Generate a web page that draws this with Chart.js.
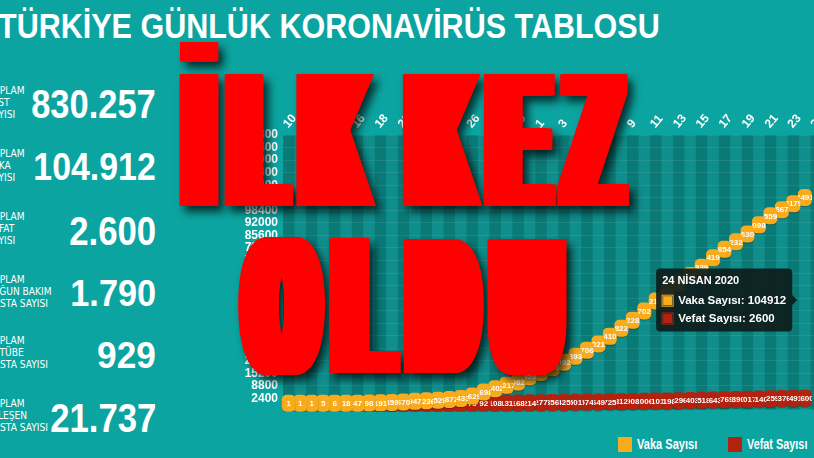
<!DOCTYPE html>
<html>
<head>
<meta charset="utf-8">
<script src="https://cdn.jsdelivr.net/npm/chart.js@4.4.1/dist/chart.umd.min.js"></script>
<style>
html, body { margin: 0; padding: 0; width: 814px; height: 458px; overflow: hidden; background: #0ca4a0; }
#stage { position: relative; width: 814px; height: 458px; overflow: hidden; color: #fff;
  font-family: "Liberation Sans", sans-serif; }
#chart { position: absolute; left: 230px; top: 92px; }
.fit { position: absolute; left: 0; top: 0; white-space: nowrap; line-height: 1; transform-origin: 0 0; }
.fit i { display: inline-block; width: 0; height: 0; }
.title { font-weight: bold; font-size: 40px; }
.num { font-weight: bold; font-size: 40px; }
.lbl { position: absolute; left: -13px; font-family: "DejaVu Sans Condensed", sans-serif; font-size: 11px;
  line-height: 11.8px; white-space: nowrap; transform: scaleX(0.92); transform-origin: 0 0; }
.big { position: absolute; left: 0; top: 0; width: 814px; height: 458px; pointer-events: none;
  filter: drop-shadow(5px 6px 4px rgba(0,0,0,.7)); }
.red { font-weight: bold; font-size: 100px; color: #ff0000; letter-spacing: 28px; word-spacing: -24px; }
.leg-box { position: absolute; top: 437px; width: 14px; height: 15px; }
.leg-txt { font-weight: bold; font-size: 20px; }
</style>
</head>
<body>
<div id="stage">
  <canvas id="chart" width="606" height="320"></canvas>

  <div class="fit title" id="title">TÜRKİYE GÜNLÜK KORONAVİRÜS TABLOSU<i></i></div>
  <div id="panel"></div>
  <div id="legend"></div>

  <div class="big"><div class="fit red" id="red1">İLK KEZ<i></i></div></div>
  <div class="big"><div class="fit red" id="red2">OLDU<i></i></div></div>
</div>

<script>
// gün etiketleri: 10 Mart - 26 Nisan
var days = ['10','11','12','13','14','15','16','17','18','19','20','21','22','23','24','25','26','27','28','29','30','31',
            '1','2','3','4','5','6','7','8','9','10','11','12','13','14','15','16','17','18','19','20','21','22','23','24','25','26'];

var vaka = [1, 1, 1, 5, 6, 18, 47, 98, 191, 359, 670, 947, 1236, 1529, 1872, 2433, 3629, 5698, 7402, 9217,
            10827, 13531, 15679, 18135, 20921, 23934, 27069, 30217, 34109, 38226, 42282, 47029, 52167, 56956,
            61049, 65111, 69392, 74193, 78546, 82329, 86306, 90980, 95591, 98674, 101790, 104912];

var vefat = [null, null, null, null, null, null, null, 1, 2, 4, 9, 21, 30, 37, 44, 59, 75, 92, 108, 131,
             168, 214, 277, 356, 425, 501, 574, 649, 725, 812, 908, 1006, 1101, 1198, 1296, 1403, 1518,
             1643, 1769, 1890, 2017, 2140, 2259, 2376, 2491, 2600];

var yTicks = [2400, 8800, 15200, 21600, 28000, 34400, 40800, 47200, 53600, 60000, 66400, 72800, 79200,
              85600, 92000, 98400, 104800, 111200, 117600, 124000, 130400, 136800];

var seriesNames = ['Vaka Sayısı', 'Vefat Sayısı'];
var seriesColors = ['#f8ab1c', '#b3220f'];
var tooltipDate = '24 NİSAN 2020';

var panelRows = [
    { label: ['TOPLAM', 'TEST', 'SAYISI'], value: '830.257' },
    { label: ['TOPLAM', 'VAKA', 'SAYISI'], value: '104.912' },
    { label: ['TOPLAM', 'VEFAT', 'SAYISI'], value: '2.600' },
    { label: ['TOPLAM', 'YOĞUN BAKIM', 'HASTA SAYISI'], value: '1.790' },
    { label: ['TOPLAM', 'ENTÜBE', 'HASTA SAYISI'], value: '929' },
    { label: ['TOPLAM', 'İYİLEŞEN', 'HASTA SAYISI'], value: '21.737' }
];

var FONT = "'Liberation Sans', sans-serif";

// sol panel
var panelBoxes = [[32, 90, 118, 85], [35, 153, 180, 148], [70, 217, 245, 211],
                  [72, 280, 306, 274], [98, 342, 368, 335], [51, 403, 432, 398]];
var panel = document.getElementById('panel');
panelRows.forEach(function (row, i) {
    var lbl = document.createElement('div');
    lbl.className = 'lbl';
    lbl.style.top = panelBoxes[i][3] + 'px';
    lbl.innerHTML = row.label.join('<br>');
    panel.appendChild(lbl);
    var num = document.createElement('div');
    num.className = 'fit num';
    num.id = 'num' + i;
    num.innerHTML = row.value + '<i></i>';
    panel.appendChild(num);
});

// lejant
var legendPos = [[618, 637, 697], [728, 747, 807]];
var legend = document.getElementById('legend');
legendPos.forEach(function (pos, i) {
    var b = document.createElement('div');
    b.className = 'leg-box';
    b.style.left = pos[0] + 'px';
    b.style.background = seriesColors[i];
    legend.appendChild(b);
    var t = document.createElement('div');
    t.className = 'fit leg-txt';
    t.id = 'leg' + i;
    t.innerHTML = seriesNames[i] + '<i></i>';
    legend.appendChild(t);
});

var SMEAR = 34;
var smear = [];
for (var k = 1; k <= SMEAR; k++) smear.push(k + 'px 0 0 #ff0000');
document.getElementById('red1').style.textShadow = smear.join(',');
document.getElementById('red2').style.textShadow = smear.join(',');

var mctx = document.createElement('canvas').getContext('2d');

// metni verilen mürekkep kutusuna sığdır
function fit(el, l, r, top, base, d, ls) {
    el.style.transform = 'none';
    var cs = getComputedStyle(el);
    mctx.font = cs.fontWeight + ' ' + cs.fontSize + ' ' + cs.fontFamily;
    var text = el.textContent;
    var first = mctx.measureText(text[0]);
    var last = mctx.measureText(text[text.length - 1]);
    var capH = mctx.measureText('H').actualBoundingBoxAscent;
    var inkL = -first.actualBoundingBoxLeft;
    var inkR = el.offsetWidth - ls - (last.width - last.actualBoundingBoxRight) + d;
    var b = el.querySelector('i').getBoundingClientRect().top - el.getBoundingClientRect().top;
    var sx = (r - l) / (inkR - inkL);
    var sy = (base - top) / capH;
    var tx = l - sx * inkL;
    var ty = base - sy * b;
    el.style.transform = 'translate(' + tx + 'px,' + ty + 'px) scale(' + sx + ',' + sy + ')';
}

function layoutText() {
    fit(document.getElementById('title'), -2, 658, 13, 38, 0, 0);
    panelBoxes.forEach(function (p, i) {
        fit(document.getElementById('num' + i), p[0], 155, p[1], p[2], 0, 0);
    });
    legendPos.forEach(function (p, i) {
        fit(document.getElementById('leg' + i), p[1], p[2], 439, 449, 0, 0);
    });
    fit(document.getElementById('red1'), 179, 630, 72, 206, SMEAR, 28);
    fit(document.getElementById('red2'), 238, 567, 237, 373, SMEAR, 28);
}
layoutText();
if (document.fonts) document.fonts.ready.then(layoutText);

// grafik
var stripes = {
    id: 'stripes',
    beforeDraw: function (chart) {
        var ctx = chart.ctx, a = chart.chartArea, xs = chart.scales.x;
        var w = xs.width / days.length;
        ctx.save();
        for (var i = 0; i < days.length; i++) {
            ctx.fillStyle = i % 2 === 0 ? '#0a7a77' : '#0f8e8b';
            ctx.fillRect(xs.getPixelForValue(i) - w / 2, a.top, w + 0.5, a.bottom - a.top);
        }
        ctx.restore();
    }
};

var pills = {
    id: 'pills',
    afterDatasetsDraw: function (chart) {
        var ctx = chart.ctx;
        [1, 0].forEach(function (di) {
            var meta = chart.getDatasetMeta(di);
            var data = chart.data.datasets[di].data;
            for (var i = meta.data.length - 1; i >= 0; i--) {
                if (data[i] == null) continue;
                var p = meta.data[i];
                var w = 14, h = 17;
                ctx.save();
                ctx.shadowColor = 'rgba(0,0,0,0.25)';
                ctx.shadowOffsetY = 1;
                ctx.beginPath();
                ctx.roundRect(p.x - w / 2, p.y - h / 2, w, h, 5);
                ctx.fillStyle = seriesColors[di];
                ctx.fill();
                ctx.shadowColor = 'transparent';
                ctx.clip();
                ctx.fillStyle = '#fff';
                ctx.font = 'bold 8px ' + FONT;
                ctx.textAlign = 'center';
                ctx.textBaseline = 'middle';
                ctx.fillText(String(data[i]), p.x, p.y + 0.5);
                ctx.restore();
            }
        });
    }
};

var Tip = Chart.Tooltip || Chart.registry.plugins.get('tooltip');
Tip.positioners.fixedRight = function (items) {
    if (!items.length) return false;
    return { x: items[0].element.x - 10, y: this.chart.chartArea.top + 165 };
};

var chart = new Chart(document.getElementById('chart'), {
    type: 'line',
    data: {
        labels: days,
        datasets: [
            { label: seriesNames[0], data: vaka, borderColor: seriesColors[0], backgroundColor: seriesColors[0],
              borderWidth: 5, pointRadius: 0, tension: 0 },
            { label: seriesNames[1], data: vefat, borderColor: seriesColors[1], backgroundColor: seriesColors[1],
              borderWidth: 5, pointRadius: 0, tension: 0 }
        ]
    },
    options: {
        responsive: false,
        animation: false,
        events: [],
        layout: { padding: 0 },
        interaction: { mode: 'index', intersect: false },
        scales: {
            x: {
                position: 'top',
                offset: true,
                grid: { display: false, drawTicks: false },
                border: { display: false },
                ticks: {
                    autoSkip: false, minRotation: 50, maxRotation: 50, padding: 4, labelOffset: 8,
                    color: '#fff', font: { family: FONT, size: 12, weight: 'bold' },
                    callback: function (v, i) { return i % 2 === 0 ? days[i] : null; }
                },
                afterFit: function (s) { s.height = 43; s.paddingLeft = 0; s.paddingRight = 0; }
            },
            y: {
                min: -3200,
                max: 136800,
                grid: { color: 'rgba(255,255,255,0.08)', drawTicks: false },
                border: { display: false },
                afterBuildTicks: function (s) { s.ticks = yTicks.map(function (v) { return { value: v }; }); },
                afterFit: function (s) { s.width = 53; s.paddingTop = 0; s.paddingBottom = 0; },
                ticks: { autoSkip: false, padding: 5, color: '#fff', font: { family: FONT, size: 12, weight: 'bold' },
                         callback: function (v) { return String(v); } }
            }
        },
        plugins: {
            legend: { display: false },
            tooltip: {
                enabled: true,
                animation: false,
                position: 'fixedRight',
                xAlign: 'right',
                yAlign: 'center',
                backgroundColor: 'rgba(14,28,28,0.92)',
                titleColor: '#fff',
                bodyColor: '#fff',
                titleFont: { family: FONT, size: 11, weight: 'bold' },
                bodyFont: { family: FONT, size: 11.5, weight: 'bold' },
                titleMarginBottom: 6,
                bodySpacing: 4,
                padding: 6,
                caretSize: 5,
                caretPadding: 0,
                cornerRadius: 4,
                boxWidth: 11,
                boxHeight: 11,
                boxPadding: 3,
                multiKeyBackground: 'rgba(0,0,0,0)',
                callbacks: {
                    title: function () { return tooltipDate; },
                    label: function (c) { return c.dataset.label + ': ' + c.raw; },
                    labelColor: function (c) {
                        return { borderColor: seriesColors[c.datasetIndex], backgroundColor: seriesColors[c.datasetIndex], borderWidth: 1 };
                    }
                }
            }
        }
    },
    plugins: [stripes, pills]
});

var lastIdx = vaka.length - 1;
chart.tooltip.setActiveElements([{ datasetIndex: 0, index: lastIdx }, { datasetIndex: 1, index: lastIdx }], { x: 0, y: 0 });
chart.update();
</script>
</body>
</html>
